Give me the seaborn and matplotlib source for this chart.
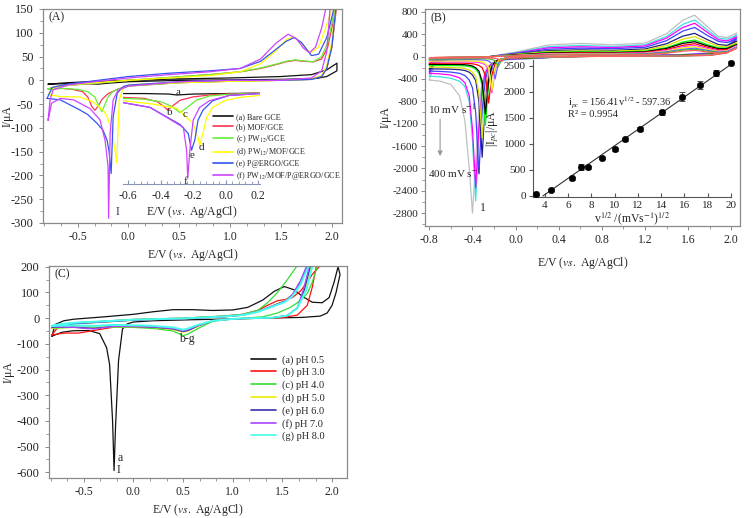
import matplotlib
matplotlib.use("Agg")
import matplotlib.pyplot as plt
from matplotlib.lines import Line2D
from matplotlib.ticker import AutoMinorLocator, FormatStrFormatter
import seaborn as sns
import numpy as np

# ---------------- panel A : CVs of the modified electrodes ----------------
A_COLORS = ["#111111", "#ff3355", "#66ee33", "#ffff00", "#3355ee", "#cc44ff"]
A_LABELS = ["(a) Bare GCE", "(b) MOF/GCE", "(c) PW$_{12}$/GCE", "(d) PW$_{12}$/MOF/GCE",
            "(e) P@ERGO/GCE", "(f) PW$_{12}$/MOF/P@ERGO/GCE"]

A_E = [
    [-0.79, -0.6, -0.3, 0.0, 0.5, 1.0, 1.5, 1.8, 1.95, 2.05,
     2.05, 1.95, 1.85, 1.5, 1.0, 0.5, 0.0, -0.2, -0.3, -0.4, -0.6, -0.79],
    [-0.79, -0.7, -0.5, -0.2, 0.0, 0.4, 0.8, 1.1, 1.3, 1.45, 1.55, 1.64, 1.72, 1.82, 1.9, 1.96, 2.01, 2.05,
     2.05, 2.0, 1.95, 1.9, 1.8, 1.5, 1.0, 0.5, 0.0, -0.1, -0.2, -0.26, -0.3, -0.33, -0.36, -0.4, -0.45, -0.55, -0.65, -0.79],
    [-0.79, -0.7, -0.5, -0.2, 0.0, 0.4, 0.8, 1.1, 1.3, 1.45, 1.55, 1.64, 1.72, 1.82, 1.9, 1.96, 2.01, 2.05,
     2.05, 2.0, 1.95, 1.9, 1.8, 1.5, 1.0, 0.5, 0.0, -0.1, -0.16, -0.2, -0.23, -0.26, -0.29, -0.33, -0.4, -0.5, -0.65, -0.79],
    [-0.79, -0.72, -0.5, -0.2, 0.0, 0.4, 0.8, 1.1, 1.3, 1.45, 1.55, 1.62, 1.7, 1.79, 1.87, 1.94, 2.0, 2.05,
     2.05, 2.0, 1.95, 1.9, 1.8, 1.5, 1.0, 0.5, 0.1, 0.0, -0.05, -0.09, -0.115, -0.13, -0.15, -0.18, -0.21, -0.25, -0.35, -0.48, -0.67, -0.79],
    [-0.8, -0.75, -0.6, -0.3, 0.0, 0.4, 0.8, 1.1, 1.3, 1.45, 1.55, 1.63, 1.7, 1.8, 1.87, 1.95, 2.02, 2.05,
     2.05, 2.0, 1.95, 1.9, 1.8, 1.5, 1.0, 0.5, 0.0, -0.05, -0.11, -0.15, -0.17, -0.19, -0.21, -0.25, -0.31, -0.4, -0.48, -0.67, -0.8],
    [-0.79, -0.77, -0.74, -0.6, -0.3, 0.0, 0.4, 0.8, 1.1, 1.3, 1.45, 1.57, 1.65, 1.72, 1.78, 1.84, 1.9, 1.95,
     2.0, 1.95, 1.9, 1.8, 1.5, 1.0, 0.5, 0.0, -0.03, -0.1, -0.15, -0.18, -0.195, -0.2, -0.23, -0.28, -0.38, -0.54, -0.67, -0.755, -0.79],
]
A_I = [
    [-8, -5, -2, 0, 3, 5, 8, 12, 22, 36,
     20, 8, 4, 2, 1, 0, -3, -6, -8, -7, -7, -8],
    [-18, -13, -9, -4, 0, 6, 12, 18, 25, 33, 39, 42, 40, 39, 45, 70, 120, 160,
     160, 70, 25, 8, 2, 0, -2, -5, -12, -18, -28, -40, -55, -63, -55, -35, -24, -19, -17, -18],
    [-18, -13, -9, -4, 0, 6, 12, 18, 26, 34, 40, 43, 41, 39, 50, 80, 130, 170,
     170, 75, 28, 9, 2, 0, -2, -5, -12, -18, -25, -35, -50, -66, -55, -35, -24, -19, -17, -18],
    [-30, -14, -8, -3, 0, 5, 10, 18, 35, 62, 85, 92, 78, 57, 70, 110, 150, 180,
     180, 80, 30, 10, 3, 0, -2, -5, -8, -10, -15, -41, -174, -150, -125, -95, -76, -62, -45, -35, -34, -30],
    [-38, -15, -8, 0, 8, 15, 20, 25, 40, 65, 82, 90, 80, 52, 55, 90, 150, 175,
     175, 70, 25, 8, 2, 0, 0, -3, -10, -13, -27, -76, -196, -150, -126, -105, -90, -72, -62, -41, -38],
    [-84, -40, -20, -10, -2, 5, 12, 18, 25, 45, 78, 97, 88, 68, 58, 70, 110, 160,
     200, 60, 20, 5, 0, 0, -3, -12, -15, -20, -41, -111, -290, -182, -126, -83, -59, -41, -38, -48, -84],
]

# inset of panel A (cathodic part, inset potential scale)
AI_E = [
    [-0.63, -0.5, -0.35, -0.3, -0.2, 0.0, 0.21],
    [-0.63, -0.5, -0.42, -0.38, -0.355, -0.33, -0.28, -0.2, -0.1, 0.0, 0.21],
    [-0.63, -0.5, -0.4, -0.33, -0.28, -0.24, -0.18, -0.1, 0.0, 0.21],
    [-0.63, -0.45, -0.3, -0.2, -0.17, -0.16, -0.14, -0.117, -0.08, -0.007, 0.085, 0.21],
    [-0.63, -0.465, -0.28, -0.23, -0.21, -0.19, -0.17, -0.14, -0.08, 0.02, 0.21],
    [-0.63, -0.465, -0.26, -0.24, -0.233, -0.22, -0.2, -0.16, -0.1, 0.02, 0.21],
]
AI_I = [
    [-28, -28, -29, -31, -29, -28, -27],
    [-36, -38, -45, -55, -63, -55, -42, -35, -31, -29, -27],
    [-38, -40, -45, -55, -68, -58, -42, -33, -30, -27],
    [-43, -50, -59, -91, -120, -137, -112, -78, -57, -43, -36, -32],
    [-47, -57, -93, -112, -147, -126, -84, -63, -43, -32, -28],
    [-47, -57, -99, -147, -206, -147, -84, -57, -43, -32, -28],
]
AI_TAGS = ["a", "b", "c", "d", "e", "f"]
AI_TAG_E = [-0.295, -0.345, -0.25, -0.148, -0.205, -0.245]
AI_TAG_I = [-25, -68, -72, -142, -158, -212]

# ---------------- panel B : scan-rate series ----------------
B_COLORS = ["#ff6060", "#40c040", "#6060ff", "#ffff00", "#ff40ff", "#ff0000", "#000000",
            "#00ff00", "#e0e000", "#202080", "#4040ff", "#ff00ff", "#40e0e0", "#c0c0c0"]
B_E_UP = [-0.8, -0.75, -0.6, -0.3, 0.0, 0.3, 0.6, 0.9, 1.2, 1.4, 1.55, 1.66, 1.78, 1.88, 1.96, 2.05]
B_I_UP = [
    [-30, -15, -10, -5, 10, 25, 30, 30, 35, 60, 95, 110, 80, 60, 70, 150],
    [-45, -20, -12, -5, 12, 30, 35, 35, 40, 70, 115, 130, 95, 70, 80, 160],
    [-60, -25, -14, -5, 15, 35, 40, 40, 50, 85, 130, 150, 110, 80, 90, 170],
    [-80, -30, -16, -8, 18, 40, 45, 45, 55, 95, 155, 175, 125, 90, 100, 180],
    [-100, -35, -18, -8, 20, 50, 55, 55, 65, 110, 175, 200, 145, 105, 110, 190],
    [-120, -40, -20, -10, 25, 55, 65, 60, 75, 125, 200, 230, 165, 120, 125, 200],
    [-140, -45, -22, -10, 30, 65, 75, 70, 85, 145, 235, 265, 190, 140, 140, 215],
    [-160, -50, -25, -12, 35, 75, 85, 80, 95, 160, 260, 295, 210, 155, 150, 225],
    [-190, -60, -28, -12, 40, 90, 100, 95, 115, 195, 310, 355, 255, 185, 175, 250],
    [-220, -70, -30, -15, 45, 105, 120, 110, 135, 230, 365, 415, 300, 215, 200, 280],
    [-260, -80, -35, -15, 55, 130, 150, 140, 165, 285, 455, 520, 375, 270, 250, 320],
    [-300, -95, -40, -18, 60, 155, 175, 160, 190, 330, 520, 595, 430, 300, 280, 350],
    [-350, -110, -45, -20, 70, 175, 200, 180, 210, 360, 575, 655, 470, 330, 310, 380],
    [-420, -130, -50, -20, 80, 205, 235, 210, 240, 410, 650, 740, 530, 360, 340, 420],
]
B_E_DN = [2.05, 1.95, 1.8, 1.5, 1.0, 0.5, 0.1, -0.05, -0.10, -0.13, -0.16, -0.19, -0.22,
          -0.25, -0.28, -0.31, -0.34, -0.37, -0.40, -0.43, -0.47, -0.52, -0.6, -0.7, -0.8]
B_I_DN = [
    [150, 60, 20, 10, 5, 0, -8, -15, -35, -90, -45, -32, -28, -26, -25, -25, -25, -25, -25, -25, -25, -26, -27, -28, -30],
    [160, 65, 22, 10, 5, 0, -10, -18, -30, -60, -180, -75, -50, -42, -40, -38, -38, -38, -38, -39, -40, -41, -42, -43, -45],
    [170, 70, 25, 12, 6, 0, -12, -20, -30, -50, -120, -400, -130, -80, -65, -60, -57, -55, -55, -55, -56, -57, -58, -59, -60],
    [180, 75, 28, 12, 6, 0, -14, -22, -30, -45, -80, -200, -600, -200, -120, -95, -85, -80, -78, -77, -77, -77, -78, -79, -80],
    [190, 80, 30, 14, 7, 0, -16, -24, -32, -48, -90, -230, -650, -240, -150, -120, -108, -102, -99, -97, -97, -97, -98, -99, -100],
    [200, 85, 32, 15, 8, 0, -18, -26, -34, -45, -70, -130, -330, -830, -340, -200, -160, -140, -130, -124, -120, -118, -118, -119, -120],
    [215, 90, 35, 16, 8, 0, -20, -28, -36, -45, -60, -90, -170, -420, -1030, -450, -260, -200, -170, -155, -147, -142, -140, -140, -140],
    [225, 95, 38, 18, 9, 0, -22, -30, -38, -48, -65, -100, -190, -480, -1230, -520, -300, -230, -195, -178, -168, -163, -160, -160, -160],
    [250, 100, 40, 20, 10, 0, -25, -33, -40, -50, -65, -90, -140, -260, -620, -1450, -650, -360, -280, -240, -215, -202, -195, -191, -190],
    [280, 110, 45, 22, 10, 0, -28, -36, -44, -55, -70, -100, -155, -290, -700, -1800, -800, -430, -330, -280, -250, -235, -226, -222, -220],
    [320, 120, 50, 25, 12, 0, -30, -40, -48, -58, -72, -95, -135, -210, -400, -950, -2100, -1000, -560, -420, -340, -300, -278, -266, -260],
    [350, 130, 55, 28, 12, 0, -35, -45, -52, -62, -75, -95, -125, -180, -290, -560, -1250, -2350, -1300, -700, -470, -380, -330, -310, -300],
    [380, 140, 60, 30, 14, 0, -40, -50, -58, -68, -82, -102, -135, -195, -320, -620, -1400, -2580, -1500, -800, -540, -440, -390, -362, -350],
    [420, 150, 65, 32, 15, 0, -45, -55, -62, -72, -85, -105, -130, -170, -250, -450, -900, -1900, -2800, -2000, -1150, -700, -500, -440, -420],
]

# inset of panel B : |Ipc| vs v^1/2
SQRT_V = [3.2, 4.5, 6.3, 7.1, 7.7, 8.9, 10.0, 10.9, 12.2, 14.1, 15.8, 17.3, 18.7, 20.0]
IPC = [30, 120, 340, 550, 550, 730, 900, 1090, 1290, 1610, 1910, 2130, 2360, 2550]
IPC_ERR = [10, 15, 30, 60, 30, 25, 30, 30, 40, 45, 90, 80, 55, 40]
FIT_SLOPE, FIT_INTERCEPT = 156.41, -597.36
FIT_X = [3.82, 20.0]

# ---------------- panel C : pH series ----------------
C_COLORS = ["#111111", "#ff1010", "#33dd33", "#eeee00", "#3333aa", "#aa44ff", "#44ffee"]
C_LABELS = ["(a) pH 0.5", "(b) pH 3.0", "(c) pH 4.0", "(d) pH 5.0", "(e) pH 6.0", "(f) pH 7.0", "(g) pH 8.0"]
C_E = [
    [-0.82, -0.79, -0.7, -0.6, -0.3, 0.0, 0.2, 0.4, 0.6, 0.8, 1.0, 1.15, 1.3, 1.42, 1.52, 1.62, 1.7, 1.8, 1.9, 1.97, 2.02, 2.06,
     2.08, 2.04, 2.0, 1.95, 1.88, 1.7, 1.3, 1.0, 0.6, 0.2, 0.0, -0.06, -0.11, -0.15, -0.18, -0.195, -0.21, -0.24, -0.27, -0.34, -0.45, -0.61, -0.72, -0.82],
    [-0.82, -0.75, -0.6, -0.3, 0.0, 0.5, 0.9, 1.1, 1.25, 1.35, 1.45, 1.52, 1.6, 1.68, 1.75, 1.8, 1.87, 1.92,
     1.9, 1.84, 1.8, 1.75, 1.65, 1.5, 1.3, 1.0, 0.8, 0.65, 0.55, 0.5, 0.4, 0.2, 0.0, -0.2, -0.4, -0.55, -0.7, -0.82],
    [-0.82, -0.75, -0.6, -0.3, 0.0, 0.5, 0.9, 1.1, 1.25, 1.35, 1.45, 1.55, 1.65, 1.7,
     1.9, 1.85, 1.8, 1.75, 1.65, 1.58, 1.45, 1.3, 1.0, 0.8, 0.65, 0.55, 0.5, 0.4, 0.2, 0.0, -0.3, -0.6, -0.82],
    [-0.82, -0.75, -0.6, -0.3, 0.0, 0.5, 0.9, 1.1, 1.25, 1.35, 1.45, 1.52, 1.6, 1.68, 1.76, 1.8,
     1.86, 1.79, 1.73, 1.65, 1.55, 1.4, 1.2, 1.0, 0.8, 0.65, 0.55, 0.5, 0.4, 0.2, 0.0, -0.2, -0.4, -0.6, -0.82],
    [-0.82, -0.75, -0.6, -0.3, 0.0, 0.5, 0.9, 1.1, 1.25, 1.35, 1.45, 1.52, 1.6, 1.68, 1.75, 1.8,
     1.85, 1.78, 1.72, 1.65, 1.55, 1.4, 1.2, 1.0, 0.8, 0.65, 0.55, 0.5, 0.4, 0.2, 0.0, -0.2, -0.4, -0.6, -0.82],
    [-0.82, -0.75, -0.6, -0.3, 0.0, 0.5, 0.9, 1.1, 1.25, 1.35, 1.45, 1.52, 1.6, 1.68, 1.74, 1.8,
     1.85, 1.77, 1.71, 1.65, 1.55, 1.4, 1.2, 1.0, 0.8, 0.65, 0.55, 0.5, 0.4, 0.2, 0.0, -0.2, -0.4, -0.6, -0.82],
    [-0.82, -0.75, -0.6, -0.3, 0.0, 0.5, 0.9, 1.1, 1.25, 1.35, 1.45, 1.52, 1.6, 1.68, 1.76, 1.82,
     1.87, 1.8, 1.74, 1.65, 1.55, 1.4, 1.2, 1.0, 0.8, 0.65, 0.55, 0.5, 0.4, 0.2, 0.0, -0.2, -0.4, -0.6, -0.82],
]
C_I = [
    [-70, -25, -10, -4, 5, 15, 25, 33, 33, 30, 32, 42, 70, 105, 123, 110, 85, 62, 60, 80, 140, 200,
     170, 100, 50, 20, 8, 3, 0, -3, -6, -10, -15, -22, -42, -165, -420, -593, -400, -180, -115, -60, -48, -49, -55, -70],
    [-65, -30, -20, -12, -5, 0, 8, 15, 30, 50, 68, 72, 80, 105, 140, 170, 200, 240,
     240, 200, 120, 50, 12, 2, 0, -3, -10, -30, -48, -52, -42, -35, -33, -35, -48, -58, -58, -65],
    [-40, -25, -18, -12, -5, 0, 8, 15, 30, 60, 100, 150, 205, 240,
     260, 200, 140, 95, 60, 42, 20, 5, -3, -12, -40, -62, -68, -50, -40, -36, -35, -35, -40],
    [-38, -28, -22, -15, -8, -2, 5, 12, 25, 40, 57, 68, 92, 140, 200, 250,
     260, 200, 110, 40, 10, 2, 0, -3, -10, -30, -50, -55, -44, -36, -34, -33, -40, -36, -38],
    [-35, -28, -22, -15, -8, -2, 5, 12, 25, 40, 55, 65, 90, 140, 200, 250,
     260, 200, 110, 40, 10, 2, 0, -3, -10, -30, -48, -52, -42, -35, -33, -32, -40, -35, -35],
    [-33, -26, -20, -14, -7, -2, 5, 12, 25, 40, 55, 66, 92, 145, 200, 250,
     260, 200, 110, 40, 10, 2, 0, -3, -10, -28, -45, -50, -40, -34, -32, -32, -42, -36, -33],
    [-30, -24, -18, -12, -6, -1, 6, 12, 24, 38, 52, 62, 85, 130, 200, 250,
     260, 200, 110, 40, 10, 2, 0, -3, -10, -26, -40, -45, -36, -30, -28, -26, -30, -28, -30],
]

# ---------------- drawing ----------------
sns.set_style("ticks")
plt.rcParams["font.family"] = ["Liberation Serif", "DejaVu Serif"]
plt.rcParams["mathtext.fontset"] = "stix"
plt.rcParams["axes.unicode_minus"] = False

W, H = 756, 518
fig = plt.figure(figsize=(W / 100, H / 100), dpi=100)


def box(l, t, r, b):
    return [l / W, 1 - b / H, (r - l) / W, (b - t) / H]


FRAME = "#8a8a8a"
XLAB = r"E/V ($\mathit{vs.}$ Ag/AgCl)"


def style(ax, minor_x=3, minor_y=2, ysize=9, ypad=4):
    for s in ax.spines.values():
        s.set_color(FRAME)
        s.set_linewidth(0.9)
    ax.xaxis.set_minor_locator(AutoMinorLocator(minor_x))
    ax.yaxis.set_minor_locator(AutoMinorLocator(minor_y))
    ax.tick_params(which="major", length=3, width=0.7, color=FRAME)
    ax.tick_params(which="minor", length=2, width=0.6, color=FRAME)
    ax.tick_params(axis="x", labelsize=8.5, pad=3)
    ax.tick_params(axis="y", labelsize=ysize, pad=ypad)
    ax.xaxis.set_major_formatter(FormatStrFormatter("%.1f"))


def cv(ax, e, i, color, lw=0.9):
    sns.lineplot(x=e, y=i, sort=False, estimator=None, color=color, lw=lw, ax=ax, legend=False)


# panel A
axA = fig.add_axes(box(43, 9, 342, 223))
for e, i, c in zip(A_E, A_I, A_COLORS):
    cv(axA, e, i, c)
axA.set_xlim(-0.84, 2.10)
axA.set_ylim(-300, 150)
axA.set_xticks([-0.5, 0.0, 0.5, 1.0, 1.5, 2.0])
axA.set_yticks(range(-300, 151, 50))
style(axA)
axA.set_xlabel(XLAB, fontsize=8.5, labelpad=3)
axA.set_ylabel("I/μA", fontsize=8.5)
axA.yaxis.set_label_coords((14 - 43) / 299, 0.5)
axA.text(-0.79, 133, "(A)", fontsize=8.5, va="center")
axA.text(-0.13, -277, "I", fontsize=8.5, va="center", color="#333366")
handles = [Line2D([], [], color=c, lw=1.2) for c in A_COLORS]
axA.legend(handles, A_LABELS, loc="upper left", bbox_to_anchor=(0.558, 0.53), frameon=False,
           fontsize=5.9, handlelength=2.4, handletextpad=0.4, labelspacing=0.25, borderaxespad=0)

axAi = fig.add_axes(box(123, 85, 260, 184))
axAi.patch.set_alpha(0)
for e, i, c in zip(AI_E, AI_I, A_COLORS):
    cv(axAi, e, i, c)
for t, e, i in zip(AI_TAGS, AI_TAG_E, AI_TAG_I):
    axAi.text(e, i, t, fontsize=8, ha="center", va="center")
axAi.set_xlim(-0.63, 0.21)
axAi.set_ylim(-218, -10)
axAi.set_xticks([-0.6, -0.4, -0.2, 0.0, 0.2])
axAi.set_yticks([])
for s in ["left", "right", "top"]:
    axAi.spines[s].set_visible(False)
axAi.spines["bottom"].set_color("#8795b5")
axAi.xaxis.set_minor_locator(AutoMinorLocator(5))
axAi.tick_params(axis="x", which="major", direction="in", length=3, color="#8795b5", labelsize=8.5, pad=4)
axAi.tick_params(axis="x", which="minor", direction="in", length=2, color="#8795b5")
axAi.xaxis.set_major_formatter(FormatStrFormatter("%.1f"))
axAi.set_xlabel(XLAB, fontsize=8.5, labelpad=2)
axAi.set_ylabel("")

# panel B
axB = fig.add_axes(box(425, 9, 740, 226))
for k in range(len(B_COLORS) - 1, -1, -1):
    cv(axB, B_E_UP + B_E_DN, B_I_UP[k] + B_I_DN[k], B_COLORS[k], lw=0.9)
axB.set_xlim(-0.84, 2.08)
axB.set_ylim(-3030, 850)
axB.set_xticks([-0.8, -0.4, 0.0, 0.4, 0.8, 1.2, 1.6, 2.0])
axB.set_yticks(range(-2800, 801, 400))
style(axB, minor_x=2, minor_y=2, ysize=8, ypad=2)
axB.set_xlabel(XLAB, fontsize=8.5, labelpad=6)
axB.set_ylabel("I/μA", fontsize=8.5, labelpad=0)
axB.text(-0.79, 690, "(B)", fontsize=8.5, va="center")
axB.text(-0.81, -940, "10 mV s$^{-1}$", fontsize=8, va="center")
axB.text(-0.81, -2080, "400 mV s$^{-1}$", fontsize=8, va="center")
axB.annotate("", xy=(-0.70, -1830), xytext=(-0.70, -1070),
             arrowprops=dict(arrowstyle="-|>", color="#999999", lw=0.8, mutation_scale=7))
axB.text(-0.33, -2700, "1", fontsize=8.5, va="center")

axBi = fig.add_axes(box(533, 60, 731, 197))
axBi.patch.set_alpha(0)
sns.lineplot(x=FIT_X, y=[FIT_SLOPE * x + FIT_INTERCEPT for x in FIT_X], color="#333333", lw=0.8, ax=axBi)
axBi.errorbar(SQRT_V, IPC, yerr=IPC_ERR, fmt="none", ecolor="#333333", elinewidth=0.6, capsize=2, capthick=0.6)
sns.scatterplot(x=SQRT_V, y=IPC, color="black", s=22, edgecolor="black", ax=axBi, clip_on=False, zorder=5)
axBi.set_xlim(2.97, 20.0)
axBi.set_ylim(-20, 2615)
axBi.set_xticks(range(4, 21, 2))
axBi.set_yticks(range(0, 2501, 500))
for s in ["right", "top"]:
    axBi.spines[s].set_visible(False)
for s in ["left", "bottom"]:
    axBi.spines[s].set_color("#555555")
    axBi.spines[s].set_linewidth(0.8)
axBi.tick_params(axis="y", length=3, color="#555555", labelsize=8, pad=2)
axBi.tick_params(axis="x", direction="in", length=3, color="#555555", labelsize=8, pad=3)
axBi.set_xlabel("v$^{1/2}$ /(mVs$^{-1}$)$^{1/2}$", fontsize=8.5, labelpad=0)
axBi.set_ylabel("|I$_{pc}$|/μA", fontsize=8.5, labelpad=2)
axBi.text(6.0, 1800, "i$_{pc}$ = 156.41v$^{1/2}$ - 597.36", fontsize=7.5, va="center")
axBi.text(6.0, 1560, "R² = 0.9954", fontsize=7.5, va="center")

# panel C
axC = fig.add_axes(box(49, 266, 347, 478))
for e, i, c, lab in zip(C_E, C_I, C_COLORS, C_LABELS):
    cv(axC, e, i, c, lw=1.4 if lab.startswith("(g)") else 0.9)
axC.set_xlim(-0.85, 2.15)
axC.set_ylim(-622, 203)
axC.set_xticks([-0.5, 0.0, 0.5, 1.0, 1.5, 2.0])
axC.set_yticks(range(-600, 201, 100))
style(axC)
axC.set_xlabel(XLAB, fontsize=8.5, labelpad=3)
axC.set_ylabel("I/μA", fontsize=8.5)
axC.yaxis.set_label_coords((15 - 49) / 298, 0.5)
axC.text(-0.79, 170, "(C)", fontsize=8.5, va="center")
axC.text(0.54, -82, "b-g", fontsize=8.5, ha="center", va="center")
axC.text(-0.16, -545, "a", fontsize=8.5, va="center")
axC.text(-0.17, -590, "I", fontsize=8.5, va="center")
handlesC = [Line2D([], [], color=c, lw=1.2) for c in C_COLORS]
axC.legend(handlesC, C_LABELS, loc="upper left", bbox_to_anchor=(0.665, 0.6), frameon=False,
           fontsize=7.5, handlelength=2.4, handletextpad=0.5, labelspacing=0.3, borderaxespad=0)

fig.savefig("out.png", dpi=100)
